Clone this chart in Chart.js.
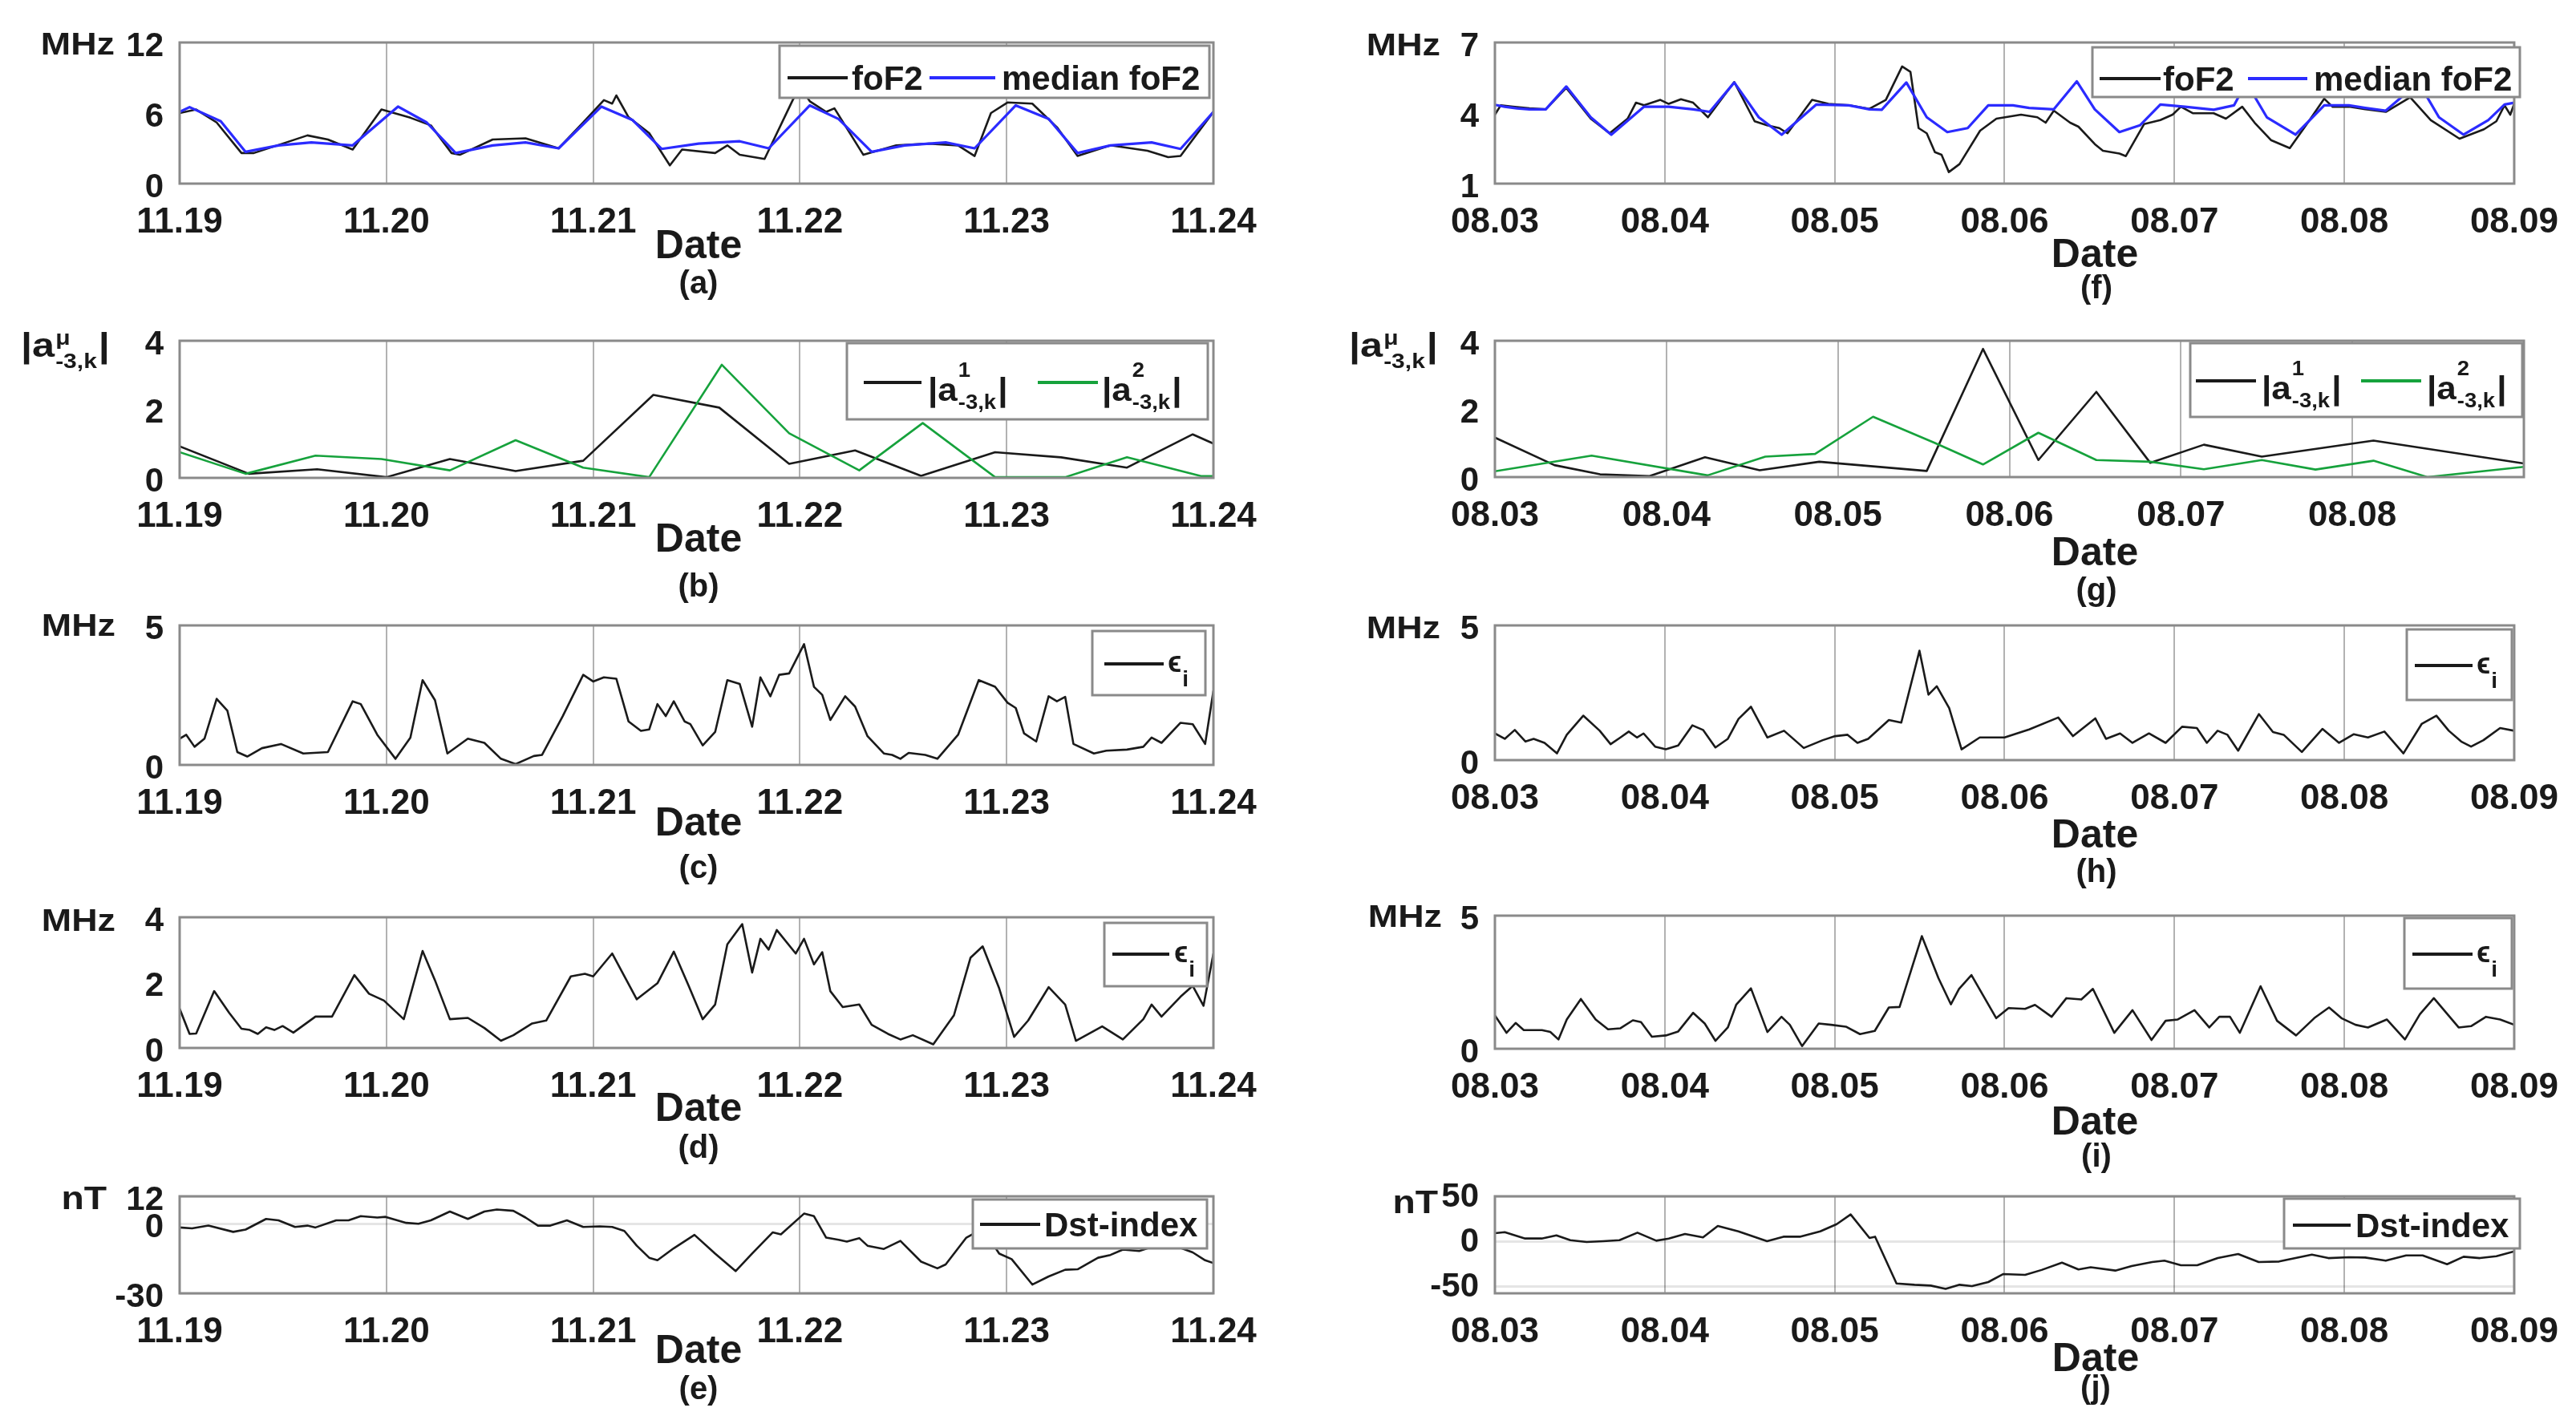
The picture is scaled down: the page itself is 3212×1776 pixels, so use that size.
<!DOCTYPE html>
<html><head><meta charset="utf-8">
<script src="https://cdn.jsdelivr.net/npm/chart.js@4.4.1/dist/chart.umd.min.js"></script>
<style>
html,body{margin:0;padding:0;background:#fff;}
body{width:3212px;height:1776px;position:relative;overflow:hidden;}
canvas{position:absolute;}
</style></head><body>
<script>
// ---------- tick labels ----------
const daysNov = ['11.19','11.20','11.21','11.22','11.23','11.24'];
const daysAug = ['08.03','08.04','08.05','08.06','08.07','08.08','08.09'];
const daysAugG = ['08.03','08.04','08.05','08.06','08.07','08.08'];
const xTicksNov = [0,1,2,3,4,5];
const xTicksAug = [0,1,2,3,4,5,6];
const xTicksAugG = [0,1,2,3,4,5];
const yTicksA = [0,6,12], yTicksF = [1,4,7];
const yTicksB = [0,2,4], yTicksG = [0,2,4];
const yTicksC = [0,5], yTicksH = [0,5];
const yTicksD = [0,2,4], yTicksI = [0,5];
const yTicksE = [-30,0,12], yTicksJ = [-50,0,50];

// ---------- series: [day offset from first date, value] ----------
const aFoF2 = [[0,6.0],[0.080,6.3],[0.179,5.2],[0.299,2.6],[0.359,2.6],[0.498,3.4],[0.618,4.1],[0.717,3.75],[0.837,2.9],[0.976,6.3],[1.116,5.6],[1.215,4.95],[1.315,2.6],[1.355,2.45],[1.514,3.75],[1.673,3.85],[1.833,3.0],[1.952,5.2],[2.052,7.1],[2.092,6.8],[2.112,7.5],[2.171,5.65],[2.271,4.3],[2.371,1.55],[2.430,2.9],[2.590,2.6],[2.649,3.25],[2.709,2.45],[2.829,2.1],[2.968,7.2],[3.008,8.0],[3.048,7.0],[3.127,6.1],[3.167,6.4],[3.307,2.45],[3.466,3.25],[3.625,3.4],[3.765,3.25],[3.845,2.35],[3.924,6.0],[4.004,6.9],[4.124,6.8],[4.243,4.8],[4.343,2.35],[4.502,3.25],[4.681,2.8],[4.781,2.25],[4.841,2.35],[5.000,6.1]];
const aMedian = [[0,6.1],[0.048,6.5],[0.199,5.3],[0.319,2.7],[0.478,3.25],[0.637,3.5],[0.837,3.25],[1.056,6.55],[1.195,5.2],[1.335,2.6],[1.514,3.25],[1.673,3.5],[1.833,3.0],[2.040,6.55],[2.191,5.4],[2.331,2.95],[2.510,3.4],[2.709,3.6],[2.849,3.0],[3.048,6.65],[3.187,5.5],[3.347,2.7],[3.506,3.25],[3.705,3.5],[3.845,3.0],[4.044,6.65],[4.203,5.5],[4.343,2.6],[4.502,3.25],[4.701,3.5],[4.841,2.95],[5.000,6.1]];

const bA1 = [[0,0.92],[0.335,0.12],[0.665,0.25],[1.000,0.02],[1.307,0.55],[1.625,0.2],[1.952,0.5],[2.291,2.42],[2.610,2.05],[2.948,0.41],[3.267,0.8],[3.586,0.06],[3.944,0.75],[4.263,0.6],[4.582,0.3],[4.900,1.27],[5.000,1.0]];
const bA2 = [[0,0.75],[0.319,0.12],[0.657,0.65],[0.976,0.55],[1.307,0.22],[1.625,1.1],[1.952,0.3],[2.271,0.02],[2.622,3.3],[2.948,1.3],[3.287,0.22],[3.594,1.6],[3.944,0.02],[4.283,0.02],[4.582,0.6],[4.940,0.05],[5.000,0.05]];
const bThreshold1 = 1.2, bThreshold2 = 0.69;

const cEps = [[0,0.94],[0.032,1.08],[0.072,0.65],[0.120,0.94],[0.179,2.37],[0.231,1.94],[0.279,0.46],[0.327,0.3],[0.398,0.6],[0.490,0.75],[0.598,0.41],[0.717,0.46],[0.837,2.28],[0.876,2.18],[0.956,1.08],[1.044,0.22],[1.116,0.98],[1.175,3.04],[1.235,2.32],[1.295,0.41],[1.394,0.94],[1.474,0.79],[1.554,0.22],[1.625,0.03],[1.713,0.32],[1.753,0.36],[1.853,1.75],[1.952,3.23],[2.000,2.99],[2.052,3.14],[2.112,3.09],[2.171,1.56],[2.231,1.22],[2.271,1.27],[2.311,2.18],[2.351,1.75],[2.390,2.28],[2.442,1.56],[2.470,1.46],[2.530,0.7],[2.590,1.18],[2.649,3.04],[2.709,2.9],[2.769,1.37],[2.809,3.14],[2.857,2.46],[2.900,3.23],[2.948,3.28],[3.020,4.33],[3.068,2.8],[3.108,2.51],[3.147,1.61],[3.219,2.46],[3.267,2.09],[3.327,1.03],[3.406,0.41],[3.446,0.36],[3.486,0.22],[3.526,0.43],[3.606,0.36],[3.665,0.22],[3.765,1.08],[3.865,3.04],[3.944,2.8],[4.004,2.23],[4.044,2.04],[4.084,1.13],[4.143,0.84],[4.203,2.46],[4.243,2.28],[4.283,2.44],[4.323,0.75],[4.422,0.41],[4.482,0.51],[4.582,0.55],[4.661,0.65],[4.701,0.98],[4.749,0.79],[4.841,1.51],[4.900,1.46],[4.960,0.75],[5.000,2.66]];

const dEps = [[0,1.2],[0.048,0.43],[0.080,0.44],[0.167,1.74],[0.239,1.08],[0.299,0.59],[0.339,0.55],[0.378,0.43],[0.418,0.63],[0.458,0.55],[0.498,0.67],[0.550,0.47],[0.657,0.96],[0.737,0.96],[0.845,2.23],[0.916,1.66],[0.988,1.45],[1.084,0.88],[1.175,2.97],[1.235,2.07],[1.307,0.88],[1.394,0.92],[1.474,0.61],[1.554,0.22],[1.614,0.39],[1.705,0.75],[1.773,0.84],[1.892,2.19],[1.960,2.27],[2.000,2.19],[2.092,2.89],[2.211,1.49],[2.311,1.98],[2.390,2.95],[2.462,1.9],[2.530,0.88],[2.590,1.33],[2.649,3.17],[2.721,3.79],[2.769,2.31],[2.809,3.34],[2.849,3.01],[2.888,3.61],[2.980,2.89],[3.020,3.34],[3.068,2.56],[3.108,2.93],[3.147,1.74],[3.207,1.25],[3.287,1.33],[3.347,0.71],[3.426,0.43],[3.486,0.26],[3.546,0.39],[3.645,0.11],[3.745,1.0],[3.825,2.76],[3.884,3.11],[3.964,1.82],[4.036,0.34],[4.104,0.84],[4.203,1.86],[4.283,1.33],[4.335,0.22],[4.462,0.66],[4.562,0.26],[4.661,0.88],[4.701,1.33],[4.749,0.96],[4.841,1.57],[4.900,1.9],[4.952,1.29],[5.000,2.89]];

const eDst = [[0,-1.5],[0.060,-1.9],[0.139,-0.7],[0.259,-3.4],[0.319,-2.4],[0.418,2.2],[0.478,1.6],[0.558,-1.3],[0.618,-0.7],[0.657,-1.5],[0.757,1.6],[0.817,1.6],[0.876,3.4],[0.956,2.8],[0.996,3.1],[1.096,0.5],[1.155,0.1],[1.215,1.6],[1.307,5.4],[1.394,2.2],[1.474,5.4],[1.534,6.25],[1.614,5.7],[1.673,2.8],[1.733,-0.7],[1.793,-0.7],[1.873,1.6],[1.952,-1.3],[2.032,-1.0],[2.092,-1.3],[2.151,-3.0],[2.211,-9.4],[2.271,-14.6],[2.311,-15.7],[2.390,-10.5],[2.490,-4.7],[2.590,-12.8],[2.689,-20.4],[2.769,-12.8],[2.869,-3.6],[2.908,-4.5],[3.020,4.5],[3.068,3.4],[3.127,-5.9],[3.187,-6.8],[3.227,-7.6],[3.287,-6.1],[3.327,-9.4],[3.406,-10.8],[3.486,-7.3],[3.586,-16.3],[3.665,-19.2],[3.705,-17.5],[3.805,-5.9],[3.884,-2.0],[3.964,-12.8],[4.024,-15.2],[4.124,-26.2],[4.203,-22.7],[4.283,-19.8],[4.343,-19.6],[4.442,-14.6],[4.502,-13.4],[4.562,-11.1],[4.641,-11.7],[4.701,-10.0],[4.801,-9.0],[4.900,-12.3],[4.960,-15.7],[5.000,-16.9]];

const fFoF2 = [[0,3.93],[0.034,4.33],[0.106,4.27],[0.203,4.2],[0.299,4.16],[0.420,5.07],[0.564,3.76],[0.675,3.14],[0.781,3.76],[0.830,4.44],[0.878,4.33],[0.974,4.56],[1.023,4.39],[1.095,4.59],[1.167,4.44],[1.254,3.82],[1.409,5.32],[1.529,3.65],[1.602,3.48],[1.674,3.36],[1.722,3.14],[1.867,4.56],[1.963,4.39],[2.084,4.33],[2.205,4.18],[2.301,4.56],[2.397,5.98],[2.446,5.75],[2.494,3.36],[2.542,3.14],[2.590,2.34],[2.629,2.23],[2.672,1.49],[2.735,1.83],[2.856,3.25],[2.952,3.76],[3.097,3.93],[3.193,3.82],[3.242,3.59],[3.290,4.1],[3.386,3.59],[3.435,3.42],[3.531,2.68],[3.579,2.4],[3.676,2.28],[3.714,2.17],[3.821,3.53],[3.917,3.7],[3.989,3.93],[4.038,4.27],[4.110,3.99],[4.231,3.99],[4.303,3.76],[4.399,4.27],[4.472,3.59],[4.568,2.85],[4.679,2.51],[4.785,3.59],[4.882,4.61],[4.930,4.27],[5.027,4.27],[5.123,4.16],[5.244,4.05],[5.388,4.67],[5.509,3.7],[5.678,2.91],[5.822,3.31],[5.895,3.65],[5.943,4.33],[5.977,3.93],[6.0,4.39]];
const fMedian = [[0,4.35],[0.058,4.27],[0.130,4.2],[0.203,4.16],[0.299,4.16],[0.420,5.13],[0.564,3.82],[0.685,3.08],[0.878,4.27],[1.023,4.27],[1.167,4.16],[1.264,4.05],[1.409,5.3],[1.553,3.82],[1.688,3.08],[1.891,4.36],[2.084,4.33],[2.205,4.16],[2.277,4.14],[2.422,5.3],[2.542,3.82],[2.663,3.19],[2.783,3.36],[2.904,4.33],[3.049,4.33],[3.145,4.22],[3.290,4.16],[3.425,5.35],[3.531,4.16],[3.676,3.19],[3.797,3.48],[3.917,4.36],[4.062,4.27],[4.231,4.14],[4.351,4.33],[4.423,5.3],[4.544,3.82],[4.713,3.08],[4.882,4.33],[5.027,4.33],[5.123,4.22],[5.244,4.1],[5.437,5.3],[5.557,3.82],[5.702,3.08],[5.847,3.7],[5.943,4.36],[6.0,4.44]];

const gA1 = [[0,1.16],[0.347,0.35],[0.613,0.08],[0.902,0.03],[1.225,0.58],[1.544,0.2],[1.891,0.45],[2.518,0.18],[2.846,3.76],[3.169,0.5],[3.507,2.5],[3.821,0.42],[4.134,0.95],[4.472,0.6],[5.123,1.07],[6.0,0.4]];
const gA2 = [[0,0.17],[0.564,0.63],[1.240,0.05],[1.577,0.6],[1.867,0.68],[2.205,1.77],[2.566,1.0],[2.846,0.37],[3.169,1.3],[3.507,0.5],[3.821,0.45],[4.134,0.23],[4.472,0.5],[4.785,0.22],[5.123,0.48],[5.437,0.0],[6.0,0.3]];
const gThreshold1 = 1.33, gThreshold2 = 0.82;

const hEps = [[0,0.99],[0.058,0.79],[0.117,1.12],[0.180,0.69],[0.228,0.79],[0.292,0.64],[0.365,0.25],[0.423,0.94],[0.520,1.65],[0.617,1.09],[0.681,0.59],[0.739,0.84],[0.788,1.06],[0.836,0.84],[0.875,0.99],[0.943,0.5],[1.006,0.4],[1.079,0.54],[1.162,1.29],[1.225,1.12],[1.298,0.47],[1.371,0.79],[1.434,1.53],[1.507,1.98],[1.604,0.84],[1.702,1.09],[1.818,0.45],[1.930,0.74],[2.003,0.89],[2.076,0.94],[2.134,0.64],[2.197,0.79],[2.319,1.49],[2.392,1.39],[2.499,4.06],[2.552,2.43],[2.601,2.74],[2.674,1.93],[2.747,0.4],[2.854,0.84],[3.000,0.84],[3.145,1.14],[3.316,1.58],[3.403,0.89],[3.534,1.55],[3.597,0.79],[3.680,0.99],[3.753,0.64],[3.850,0.99],[3.948,0.64],[4.045,1.24],[4.132,1.19],[4.191,0.64],[4.254,1.09],[4.312,0.94],[4.375,0.35],[4.497,1.71],[4.580,1.04],[4.643,0.94],[4.750,0.3],[4.871,1.16],[4.969,0.64],[5.056,0.96],[5.139,0.84],[5.236,1.06],[5.348,0.25],[5.455,1.34],[5.542,1.65],[5.615,1.09],[5.688,0.69],[5.746,0.5],[5.819,0.74],[5.917,1.19],[6.0,1.09]];

const iEps = [[0,1.25],[0.068,0.6],[0.122,0.97],[0.170,0.7],[0.277,0.7],[0.326,0.63],[0.374,0.35],[0.423,1.1],[0.506,1.87],[0.593,1.1],[0.666,0.73],[0.739,0.77],[0.812,1.07],[0.860,1.0],[0.924,0.45],[1.006,0.5],[1.079,0.65],[1.167,1.35],[1.235,0.95],[1.298,0.3],[1.371,0.8],[1.420,1.65],[1.507,2.27],[1.604,0.63],[1.687,1.2],[1.736,0.9],[1.808,0.1],[1.906,0.95],[1.979,0.9],[2.066,0.83],[2.149,0.55],[2.236,0.67],[2.319,1.55],[2.382,1.57],[2.513,4.23],[2.611,2.65],[2.684,1.67],[2.732,2.25],[2.805,2.77],[2.951,1.15],[3.024,1.53],[3.121,1.5],[3.179,1.65],[3.277,1.2],[3.364,1.9],[3.452,1.85],[3.520,2.25],[3.646,0.6],[3.753,1.45],[3.865,0.33],[3.948,1.05],[4.020,1.1],[4.118,1.45],[4.205,0.8],[4.264,1.2],[4.327,1.2],[4.385,0.6],[4.507,2.35],[4.604,1.05],[4.716,0.5],[4.823,1.15],[4.910,1.55],[4.983,1.15],[5.066,0.9],[5.139,0.8],[5.250,1.1],[5.357,0.35],[5.445,1.3],[5.527,1.9],[5.673,0.8],[5.746,0.85],[5.834,1.2],[5.917,1.1],[6.0,0.9]];

const jDst = [[0,8.9],[0.058,10.1],[0.178,3.0],[0.275,3.0],[0.362,6.5],[0.444,1.2],[0.540,-0.9],[0.637,0],[0.733,1.2],[0.839,9.5],[0.950,0.6],[1.023,3],[1.119,8],[1.225,4.2],[1.312,17],[1.433,11],[1.602,0],[1.698,5],[1.795,5],[1.915,11],[2.012,19],[2.094,29.8],[2.205,3.6],[2.238,5],[2.364,-47],[2.470,-48.5],[2.566,-49.4],[2.653,-53],[2.735,-48.5],[2.808,-50],[2.904,-45.5],[2.991,-36.6],[3.121,-37.5],[3.218,-32],[3.338,-23.8],[3.435,-31.5],[3.507,-29],[3.652,-32.7],[3.748,-27.7],[3.869,-23.2],[3.941,-21.7],[4.038,-26.8],[4.134,-26.8],[4.255,-18.8],[4.375,-14.3],[4.496,-23.2],[4.616,-22.6],[4.809,-14.9],[4.906,-18.8],[5.027,-17.9],[5.123,-18.2],[5.244,-21.7],[5.364,-15.8],[5.461,-15.8],[5.605,-25.6],[5.702,-17.3],[5.798,-18.8],[5.895,-16.7],[6.0,-11.3]];

// ---------- styling / layout ----------
const FONT = '"Liberation Sans", Arial, Helvetica, sans-serif';
const INK = '#1a1a1a';
const BLACK = '#1a1a1a', BLUE = '#2b2bff', GREEN = '#16a23c';
const BLACK_DASH = '#2a2a2a', GREEN_DASH = '#3fbf5a';

function pts(arr){ return arr.map(p => ({x:p[0], y:p[1]})); }
function hline(v, xMax){ return [{x:0,y:v},{x:xMax,y:v}]; }

function txt(ctx, s, x, y, size, align, sx){
  sx = sx || 1;
  ctx.save();
  ctx.font = 'bold ' + size + 'px ' + FONT;
  ctx.fillStyle = INK;
  ctx.textBaseline = 'alphabetic';
  ctx.textAlign = align || 'left';
  ctx.translate(x, y); ctx.scale(sx, 1);
  ctx.fillText(s, 0, 0);
  const w = ctx.measureText(s).width * sx;
  ctx.restore();
  return w;
}
function absLabel(ctx, x, base, sup, sub, big, small, supDy, subDy, sx){
  const w = txt(ctx, '|a', x, base, big, 'left', sx);
  const x2 = x + w + 1;
  const w1 = txt(ctx, sup, x2, base + supDy, small, 'left', sx);
  const w2 = txt(ctx, sub, x2, base + subDy, small, 'left', sx);
  txt(ctx, '|', x2 + Math.max(w1, w2) + 2, base, big, 'left', sx);
}
function epsLabel(ctx, x, base){
  const w = txt(ctx, '\u03F5', x, base, 36, 'left', 1);
  txt(ctx, 'i', x + w + 1, base + 18, 28, 'left', 1);
}
function seg(ctx, x1, x2, y, color){
  ctx.save(); ctx.strokeStyle = color; ctx.lineWidth = 4; ctx.setLineDash([]);
  ctx.beginPath(); ctx.moveTo(x1, y); ctx.lineTo(x2, y); ctx.stroke(); ctx.restore();
}
function drawLegend(ctx, lg){
  const [x1,y1,x2,y2] = lg.box;
  ctx.save();
  ctx.fillStyle = '#fff'; ctx.fillRect(x1, y1, x2-x1, y2-y1);
  ctx.strokeStyle = '#8a8a8a'; ctx.lineWidth = 3; ctx.strokeRect(x1, y1, x2-x1, y2-y1);
  ctx.restore();
  lg.items.forEach(it => {
    seg(ctx, it.x1, it.x2, it.y, it.color);
    if (it.kind === 'text') txt(ctx, it.label, it.tx, it.y + 15, 42, 'left', 1);
    else if (it.kind === 'abs') absLabel(ctx, it.tx, it.y + 23, it.sup, '-3,k', 40, 25, -30, 10, 1.1);
    else if (it.kind === 'eps') epsLabel(ctx, it.tx, it.y + 10);
  });
}

const COLW = 1606, YW = 100, XH = 90;

const panels = [
 { col:0, L:224, T:53, R:1513, B:229, xMax:5, xTicks:xTicksNov, xLabels:daysNov,
   yMin:0, yMax:12, yTicks:yTicksA, unit:'MHz', unitX:143, unitBase:68, unitSize:39, unitSx:1.15,
   dateX:871, dateBase:322, cap:'(a)', capX:871, capBase:366,
   series:[{d:aMedian,c:BLUE,w:3.2,o:0},{d:aFoF2,c:BLACK,w:2.6,o:1}],
   legend:{box:[972,57,1508,122], items:[
     {kind:'text',x1:982,x2:1057,y:97,color:BLACK,label:'foF2',tx:1062},
     {kind:'text',x1:1159,x2:1241,y:97,color:BLUE,label:'median foF2',tx:1249}]}},
 { col:0, L:224, T:425, R:1513, B:596, xMax:5, xTicks:xTicksNov, xLabels:daysNov,
   yMin:0, yMax:4, yTicks:yTicksB, absY:{x:26, base:445},
   dateX:871, dateBase:688, cap:'(b)', capX:871, capBase:744,
   series:[{d:bA2,c:GREEN,w:2.6,o:0},{d:bA1,c:BLACK,w:2.6,o:1},
           {d:hline(bThreshold1,5),c:BLACK_DASH,w:3,o:3,dash:[16,10]},
           {d:hline(bThreshold2,5),c:GREEN_DASH,w:3,o:2,dash:[16,10]}],
   legend:{box:[1056,428,1506,523], items:[
     {kind:'abs',x1:1077,x2:1149,y:477,color:BLACK,sup:'1',tx:1157},
     {kind:'abs',x1:1294,x2:1369,y:477,color:GREEN,sup:'2',tx:1374}]}},
 { col:0, L:224, T:780, R:1513, B:954, xMax:5, xTicks:xTicksNov, xLabels:daysNov,
   yMin:0, yMax:5, yTicks:yTicksC, unit:'MHz', unitX:144, unitBase:793, unitSize:39, unitSx:1.15,
   dateX:871, dateBase:1042, cap:'(c)', capX:871, capBase:1095,
   series:[{d:cEps,c:BLACK,w:2.6,o:0}],
   legend:{box:[1362,787,1503,867], items:[
     {kind:'eps',x1:1377,x2:1451,y:828,color:BLACK,tx:1456}]}},
 { col:0, L:224, T:1144, R:1513, B:1307, xMax:5, xTicks:xTicksNov, xLabels:daysNov,
   yMin:0, yMax:4, yTicks:yTicksD, unit:'MHz', unitX:144, unitBase:1161, unitSize:39, unitSx:1.15,
   dateX:871, dateBase:1398, cap:'(d)', capX:871, capBase:1444,
   series:[{d:dEps,c:BLACK,w:2.6,o:0}],
   legend:{box:[1377,1151,1505,1230], items:[
     {kind:'eps',x1:1387,x2:1458,y:1190,color:BLACK,tx:1464}]}},
 { col:0, L:224, T:1492, R:1513, B:1613, xMax:5, xTicks:xTicksNov, xLabels:daysNov,
   yMin:-30, yMax:12, yTicks:yTicksE, yGrid:true, unit:'nT', unitX:133, unitBase:1508, unitSize:41, unitSx:1.13,
   dateX:871, dateBase:1700, cap:'(e)', capX:871, capBase:1745,
   series:[{d:eDst,c:BLACK,w:2.6,o:0}],
   legend:{box:[1213,1496,1505,1557], items:[
     {kind:'text',x1:1222,x2:1297,y:1527,color:BLACK,label:'Dst-index',tx:1302}]}},

 { col:1, L:1864, T:53, R:3147, B:229, xMax:6, xTicks:xTicksAug, xLabels:daysAug,
   yMin:1, yMax:7, yTicks:yTicksF, unit:'MHz', unitX:1796, unitBase:69, unitSize:39, unitSx:1.15,
   dateX:2612, dateBase:333, cap:'(f)', capX:2614, capBase:372,
   series:[{d:fMedian,c:BLUE,w:3.2,o:0},{d:fFoF2,c:BLACK,w:2.6,o:1}],
   legend:{box:[2609,59,3142,121], items:[
     {kind:'text',x1:2618,x2:2694,y:98,color:BLACK,label:'foF2',tx:2697},
     {kind:'text',x1:2803,x2:2877,y:98,color:BLUE,label:'median foF2',tx:2885}]}},
 { col:1, L:1864, T:425, R:3147, B:595, xMax:6, xTicks:xTicksAugG, xLabels:daysAugG,
   yMin:0, yMax:4, yTicks:yTicksG, absY:{x:1682, base:445},
   dateX:2612, dateBase:705, cap:'(g)', capX:2614, capBase:749,
   series:[{d:gA2,c:GREEN,w:2.6,o:0},{d:gA1,c:BLACK,w:2.6,o:1},
           {d:hline(gThreshold1,6),c:BLACK_DASH,w:3,o:3,dash:[16,10]},
           {d:hline(gThreshold2,6),c:GREEN_DASH,w:3,o:2,dash:[16,10]}],
   legend:{box:[2731,428,3145,520], items:[
     {kind:'abs',x1:2738,x2:2813,y:475,color:BLACK,sup:'1',tx:2820},
     {kind:'abs',x1:2944,x2:3019,y:475,color:GREEN,sup:'2',tx:3026}]}},
 { col:1, L:1864, T:780, R:3137, B:948, xMax:6, xTicks:xTicksAug, xLabels:daysAug,
   yMin:0, yMax:5, yTicks:yTicksH, unit:'MHz', unitX:1796, unitBase:796, unitSize:39, unitSx:1.15,
   dateX:2612, dateBase:1057, cap:'(h)', capX:2614, capBase:1100,
   series:[{d:hEps,c:BLACK,w:2.6,o:0}],
   legend:{box:[3001,785,3132,873], items:[
     {kind:'eps',x1:3011,x2:3083,y:830,color:BLACK,tx:3088}]}},
 { col:1, L:1864, T:1142, R:3137, B:1308, xMax:6, xTicks:xTicksAug, xLabels:daysAug,
   yMin:0, yMax:5, yTicks:yTicksI, unit:'MHz', unitX:1798, unitBase:1156, unitSize:39, unitSx:1.15,
   dateX:2612, dateBase:1415, cap:'(i)', capX:2614, capBase:1455,
   series:[{d:iEps,c:BLACK,w:2.6,o:0}],
   legend:{box:[2998,1145,3132,1233], items:[
     {kind:'eps',x1:3008,x2:3083,y:1190,color:BLACK,tx:3088}]}},
 { col:1, L:1864, T:1492, R:3147, B:1613, xMax:6, xTicks:xTicksAug, xLabels:daysAug,
   yMin:-58, yMax:50, yTicks:yTicksJ, yGrid:true, labelOffset:1, unit:'nT', unitX:1793, unitBase:1513, unitSize:41, unitSx:1.13,
   dateX:2613, dateBase:1710, cap:'(j)', capX:2613, capBase:1744,
   series:[{d:jDst,c:BLACK,w:2.6,o:0}],
   legend:{box:[2848,1495,3142,1557], items:[
     {kind:'text',x1:2859,x2:2931,y:1528,color:BLACK,label:'Dst-index',tx:2937}]}}
];

function makePanel(p){
  const cx = p.col === 0 ? 0 : COLW;
  const cy = p.T - 80;
  const ch = p.capBase + 22 - cy;
  const cw = COLW;
  const cv = document.createElement('canvas');
  cv.width = cw; cv.height = ch;
  cv.style.left = cx + 'px'; cv.style.top = cy + 'px';
  cv.style.width = cw + 'px'; cv.style.height = ch + 'px';
  document.body.appendChild(cv);
  const pad = { left: p.L - cx - YW, top: p.T - cy, right: cx + cw - p.R, bottom: ch - (p.B - cy) - XH };

  const datasets = p.series.map(s => ({
    data: pts(s.d), borderColor: s.c, borderWidth: s.w, borderDash: s.dash || [],
    pointRadius: 0, tension: 0, fill: false, order: s.o, borderJoinStyle: 'round'
  }));

  const deco = {
    id: 'deco',
    afterDatasetsDraw(chart){
      const ctx = chart.ctx, a = chart.chartArea;
      ctx.save();
      ctx.strokeStyle = '#8a8a8a'; ctx.lineWidth = 3; ctx.setLineDash([]);
      ctx.strokeRect(a.left, a.top, a.right - a.left, a.bottom - a.top);
      ctx.translate(-cx, -cy);
      drawLegend(ctx, p.legend);
      ctx.restore();
    },
    afterDraw(chart){
      const ctx = chart.ctx;
      ctx.save();
      ctx.translate(-cx, -cy);
      if (p.unit) txt(ctx, p.unit, p.unitX, p.unitBase, p.unitSize, 'right', p.unitSx);
      if (p.absY) absLabel(ctx, p.absY.x, p.absY.base, '\u03BC', '-3,k', 42, 25, -15, 14, 1.2);
      txt(ctx, 'Date', p.dateX, p.dateBase, 50, 'center', 1);
      txt(ctx, p.cap, p.capX, p.capBase, 40, 'center', 1);
      ctx.restore();
    }
  };

  new Chart(cv, {
    type: 'line',
    data: { datasets },
    options: {
      responsive: false, animation: false, devicePixelRatio: 1, events: [],
      layout: { padding: pad },
      plugins: { legend: { display: false }, tooltip: { enabled: false } },
      scales: {
        x: {
          type: 'linear', min: 0, max: p.xMax,
          afterBuildTicks: s => { s.ticks = p.xTicks.map(v => ({ value: v })); },
          afterFit: s => { s.height = XH; },
          ticks: { callback: (v, i) => p.xLabels[i], autoSkip: false, maxRotation: 0, padding: 22,
                   color: INK, font: { family: FONT, size: 44, weight: 'bold' } },
          grid: { color: 'rgba(0,0,0,0.3)', lineWidth: 2, drawTicks: false },
          border: { display: false }
        },
        y: {
          type: 'linear', min: p.yMin, max: p.yMax,
          afterBuildTicks: s => { s.ticks = p.yTicks.map(v => ({ value: v })); },
          afterFit: s => { s.width = YW; },
          ticks: { padding: 20, labelOffset: (p.labelOffset !== undefined ? p.labelOffset : 5), color: INK,
                   font: { family: FONT, size: 42, weight: 'bold' } },
          grid: { display: !!p.yGrid, color: 'rgba(0,0,0,0.1)', lineWidth: 3, drawTicks: false },
          border: { display: false }
        }
      }
    },
    plugins: [deco]
  });
}

panels.forEach(makePanel);
</script>
</body></html>
